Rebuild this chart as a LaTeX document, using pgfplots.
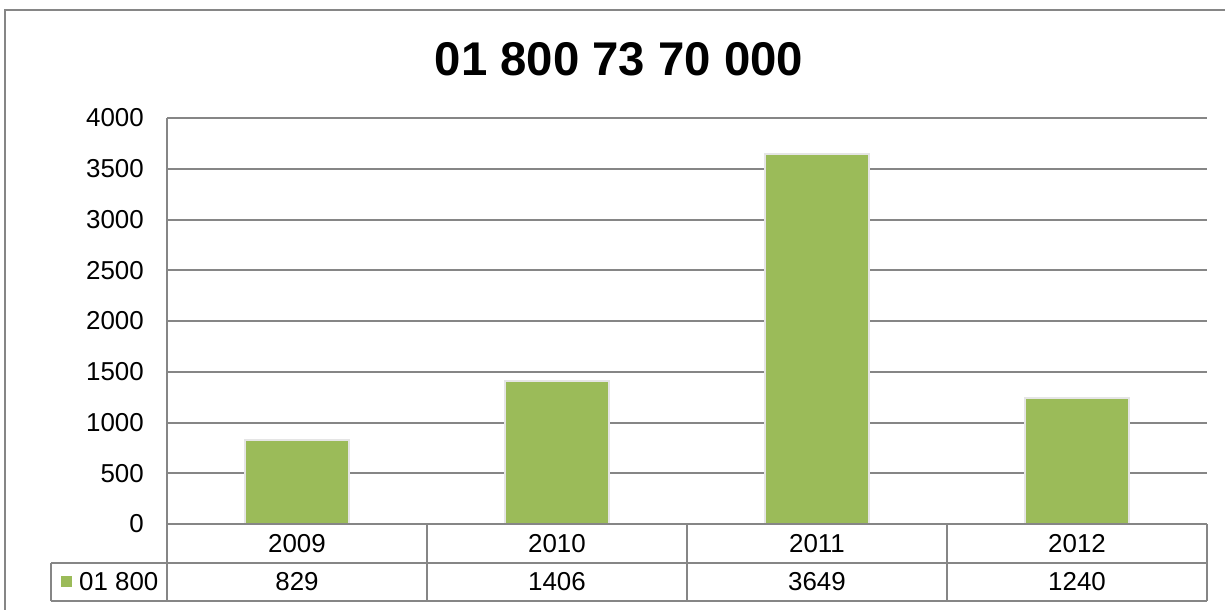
\documentclass[border=0pt]{standalone}
\usepackage{fontspec}
\setmainfont{Liberation Sans}
\usepackage{pgfplots}
\pgfplotsset{compat=1.18}
\definecolor{barG}{HTML}{9BBB59}
\definecolor{gridG}{HTML}{868686}
\begin{document}
\begin{tikzpicture}
\begin{scope}[x=1bp,y=-1bp]
\path[use as bounding box] (0,0) rectangle (1225,610);
\draw[gridG, line width=2bp] (5,640) -- (5,10) -- (1260,10);
\node[font=\fontsize{47.5}{56}\selectfont\bfseries] at (619,59) {01 800 73 70 000};
\end{scope}
\begin{axis}[at={(167bp,-524bp)}, anchor=south west,
  width=1040bp, height=406bp, scale only axis,
  xmin=-0.5, xmax=3.5, ymin=0, ymax=4000,
  ytick={0,500,...,4000}, xtick=\empty,
  axis x line*=bottom, axis y line*=left,
  axis line style={gridG, line width=2bp, -},
  ymajorgrids, grid style={gridG, line width=2bp},
  major tick length=0,
  yticklabel style={font=\fontsize{26}{31}\selectfont, inner sep=0pt, xshift=-23bp},
  /pgf/number format/assume math mode=true, /pgf/number format/1000 sep={},
  ybar, bar width=0.4, clip=false]
\addplot[fill=barG, draw=black!10, line width=2bp] coordinates {(0,829) (1,1406) (2,3649) (3,1240)};
\end{axis}
\begin{scope}[x=1bp,y=-1bp]
\draw[gridG, line width=2bp] (167,524) -- (1207,524);
\draw[gridG, line width=2bp] (51,563) -- (1207,563);
\draw[gridG, line width=2bp] (51,601) -- (1207,601);
\draw[gridG, line width=2bp] (51,563) -- (51,601);
\foreach \xx in {167,427,687,947,1207} \draw[gridG, line width=2bp] (\xx,524) -- (\xx,601);
\fill[barG] (61,576) rectangle (72,587);
\node[anchor=west, inner sep=0pt, font=\fontsize{26}{31}\selectfont] at (79,582) {01 800};
\foreach \xx/\yr/\vv in {297/2009/829, 557/2010/1406, 817/2011/3649, 1077/2012/1240} {
  \node[font=\fontsize{26}{31}\selectfont] at (\xx,543.5) {\yr};
  \node[font=\fontsize{26}{31}\selectfont] at (\xx,582) {\vv};
}
\end{scope}
\end{tikzpicture}
\end{document}
